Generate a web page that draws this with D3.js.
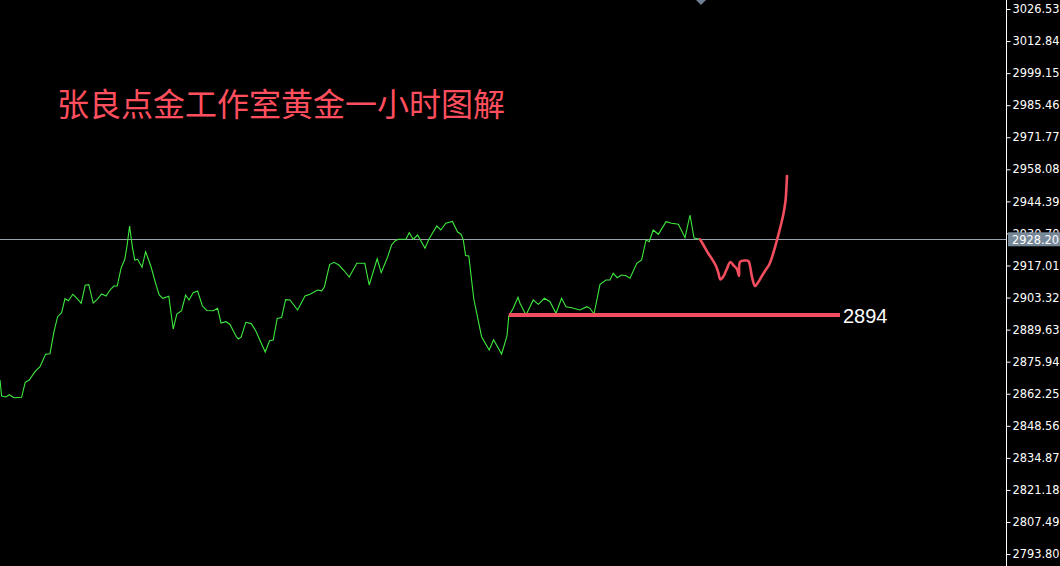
<!DOCTYPE html>
<html><head><meta charset="utf-8">
<script src="https://cdn.jsdelivr.net/npm/d3@7"></script>
<style>html,body{margin:0;padding:0;background:#000;overflow:hidden}</style>
</head><body><svg id="c" width="1060" height="566"></svg>
<script>
const titleText = "张良点金工作室黄金一小时图解";
const priceTicks = [3026.53, 3012.84, 2999.15, 2985.46, 2971.77, 2958.08, 2944.39, 2930.70, 2917.01, 2903.32, 2889.63, 2875.94, 2862.25, 2848.56, 2834.87, 2821.18, 2807.49, 2793.80];
const bidPrice = [2928.20];
const closeBars = [0,0.4,1.5,2.3,3.5,5.4,6.3,7.3,8.75,10,11.4,12.5,13.5,14.4,15.4,16.25,17.1,18.2,19.3,20.3,21.3,22.2,23.3,24.3,25.4,26.5,27.7,28.5,29.3,30.3,31.2,31.75,32.4,33.1,33.7,34.4,35.5,36.4,37.7,38.9,39.8,40.7,42.2,43.3,44.2,45.4,46.4,47.25,48.3,49.4,50.6,51.7,53.3,54.4,55.25,56.5,57.5,59.1,59.6,60.3,61.45,62.8,63.9,66.3,67.4,68.3,69.3,70.4,71.4,72.5,74.4,76.25,77.5,79.4,80.4,81.1,82.4,83.5,84.7,86,87.3,89.2,91.2,92.3,94.3,95.3,96.9,97.9,98.75,99.6,101.5,102.3,103.3,104.4,106.25,107.25,109.2,110.2,111.45,113.1,114.4,115.25,115.8,116.4,117.2,118.45,120.4,122.3,123.4,125.4,126.75,127.2,128.3,129.5,130,131.5,133.3,134.6,136.1,137.5,139,140.4,141.5,142.9,145,146.7,147.5,148.5,150,151.5,152.5,153.3,154.3,155.4,156.5,157.5,159.2,160.4,161.5,162.3,163.3,164.6,166.5,167.9,169.6,171.25,172.5,173.5,175];
const closePrices = [2868.12,2861.28,2860.86,2861.84,2860.56,2860.73,2867.14,2868.12,2871.66,2873.80,2879.09,2879.35,2888.74,2895.14,2896.85,2902.83,2901.98,2904.71,2902.83,2900.87,2908.55,2908.81,2900.99,2902.58,2904.84,2903.98,2906.97,2908.25,2908.25,2916.07,2919.66,2925.33,2933.87,2924.78,2919.36,2919.66,2916.24,2922.90,2916.79,2909.41,2904.41,2903.00,2903.86,2889.89,2896.30,2897.71,2904.41,2902.28,2905.39,2906.12,2899.71,2897.79,2897.71,2898.73,2892.46,2893.01,2891.82,2886.48,2885.62,2886.48,2892.75,2892.20,2889.25,2880.07,2884.90,2885.20,2894.38,2894.80,2902.41,2902.28,2898.01,2903.98,2904.75,2906.55,2906.21,2907.83,2917.43,2918.37,2917.22,2914.87,2912.10,2917.95,2917.95,2908.68,2919.87,2913.94,2920.64,2925.76,2927.47,2928.19,2928.19,2931.01,2928.19,2930.03,2924.35,2928.32,2933.87,2932.17,2935.03,2935.79,2931.31,2930.37,2928.19,2921.28,2921.06,2902.70,2886.61,2880.93,2885.33,2879.22,2886.90,2895.44,2898.73,2903.43,2900.87,2895.87,2902.28,2900.44,2903.00,2901.55,2896.60,2903.00,2899.41,2898.99,2898.01,2899.41,2898.73,2896.30,2908.98,2910.82,2910.82,2913.68,2911.80,2912.95,2912.65,2911.54,2917.95,2919.36,2927.90,2927.17,2932.17,2930.33,2935.71,2935.03,2934.60,2928.88,2938.57,2928.75,2928.20];
const forecastBars = [175,176,177,178,179,179.6,180.1,180.75,181.6,182.6,183.4,184.25,184.75,185,186.25,187.1,187.5,188,188.75,189.25,190.25,191.25,192.25,193.25,194.25,195.1,195.9,196.4,196.6,196.75];
const forecastPrices = [2928.20,2925.33,2922.34,2919.78,2916.79,2913.80,2911.03,2912.10,2915.09,2918.50,2917.01,2915.51,2912.52,2918.50,2919.14,2918.93,2916.79,2912.10,2908.25,2909.11,2911.88,2914.66,2917.22,2921.92,2927.90,2933.45,2939.42,2944.97,2950.10,2955.22];
const supportBars = [127.2, 210];
const supportPrices = [2895.9, 2895.9];
const supportLabel = ["2894"];

const W = 1060, H = 566, plotR = 1006;
const svg = d3.select("#c");
svg.append("rect").attr("width", W).attr("height", H).attr("fill", "#000");

const x = d3.scaleLinear().domain([0, 251.5]).range([0, plotR]);
const y = d3.scaleLinear().domain([3030.37, 2788.70]).range([0, H]);

svg.append("defs").append("clipPath").attr("id", "plot")
  .append("rect").attr("x", 0).attr("y", 0).attr("width", plotR).attr("height", H);
const g = svg.append("g").attr("clip-path", "url(#plot)");

// bid line
g.append("line").attr("x1", 0).attr("x2", plotR)
  .attr("y1", Math.round(y(bidPrice[0])) + 0.5).attr("y2", Math.round(y(bidPrice[0])) + 0.5)
  .attr("stroke", "#9aa3ad").attr("stroke-width", 1);

// close line
const line = d3.line().x((d, i) => x(closeBars[i])).y(d => y(d));
g.append("path").datum(closePrices).attr("d", line)
  .attr("fill", "none").attr("stroke", "#3ee83e").attr("stroke-width", 1.1)
  .attr("stroke-linejoin", "miter");

// support line
g.append("line")
  .attr("x1", x(supportBars[0])).attr("x2", x(supportBars[1]))
  .attr("y1", y(supportPrices[0])).attr("y2", y(supportPrices[1]))
  .attr("stroke", "#f04d5f").attr("stroke-width", 4);
svg.append("text").attr("x", x(supportBars[1]) + 3).attr("y", y(supportPrices[0]) + 8)
  .attr("fill", "#ffffff").attr("font-family", "Liberation Sans, Arial, sans-serif")
  .attr("font-size", 20).text(supportLabel[0]);

// forecast curve
const fline = d3.line().x((d, i) => x(forecastBars[i])).y(d => y(d)).curve(d3.curveCatmullRom.alpha(0.5));
g.append("path").datum(forecastPrices).attr("d", fline)
  .attr("fill", "none").attr("stroke", "#f04d5f").attr("stroke-width", 2.6)
  .attr("stroke-linecap", "round").attr("stroke-linejoin", "round");

// title
svg.append("text").attr("x", 57).attr("y", 116)
  .attr("fill", "#ff4f5e").attr("font-family", "Noto Sans CJK SC, sans-serif")
  .attr("font-size", 32).text(titleText);

// shift marker
const mx = x(closeBars[closeBars.length - 1]) + 1;
svg.append("path").attr("d", `M${mx - 5},0 L${mx + 5},0 L${mx},5 Z`).attr("fill", "#6f7f93");

// right axis
const axis = d3.axisRight(y).tickValues(priceTicks).tickFormat(d3.format(".2f")).tickSize(4).tickPadding(2);
const ag = svg.append("g").attr("transform", `translate(${plotR + 0.5},0)`).call(axis);
ag.select(".domain").attr("stroke", "#ffffff").attr("d", `M0,0V${H}`);
ag.selectAll(".tick line").attr("stroke", "#ffffff");
ag.selectAll(".tick text").attr("fill", "#ffffff")
  .attr("font-family", "DejaVu Sans, sans-serif").attr("font-size", 11.4);

// bid label
const by = y(bidPrice[0]);
svg.append("rect").attr("x", plotR + 2).attr("y", by - 7).attr("width", W - plotR - 2).attr("height", 14)
  .attr("fill", "#778899");
svg.append("text").attr("x", plotR + 6).attr("y", by + 4.5).attr("fill", "#ffffff")
  .attr("font-family", "DejaVu Sans, sans-serif").attr("font-size", 11.4)
  .text(d3.format(".2f")(bidPrice[0]));
</script></body></html>
